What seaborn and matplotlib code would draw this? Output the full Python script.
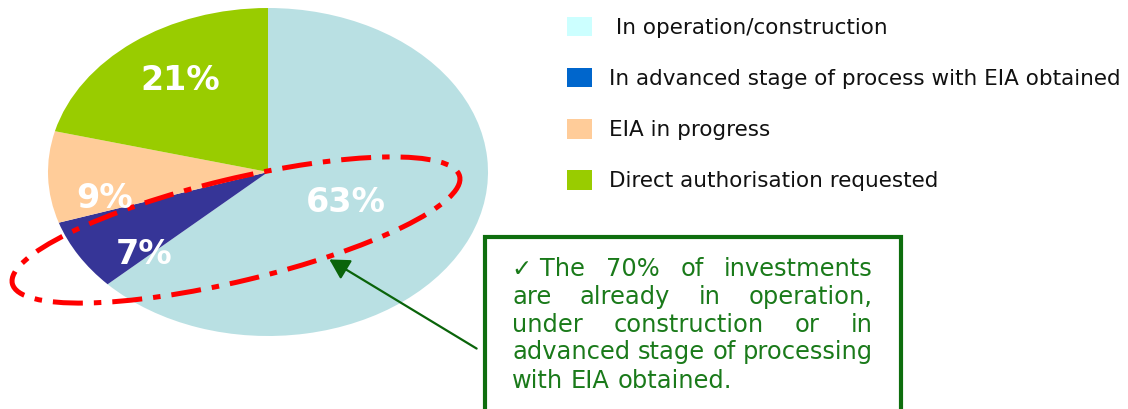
import matplotlib
matplotlib.use("Agg")
import matplotlib.pyplot as plt
import seaborn as sns
from matplotlib.patches import Ellipse, Rectangle, Patch, FancyArrowPatch

# ---------------- data ----------------
categories = [" In operation/construction",
              "In advanced stage of process with EIA obtained",
              "EIA in progress",
              "Direct authorisation requested"]
shares = [63, 7, 9, 21]
pct_labels = ["63%", "7%", "9%", "21%"]
pie_colors = ["#B9E0E3", "#363597", "#FFCC99", "#99CC00"]
legend_colors = ["#CCFFFF", "#0066CC", "#FFCC99", "#99CC00"]
note_lines = ["\u2713 The 70% of investments",
              "are already in operation,",
              "under construction or in",
              "advanced stage of processing",
              "with EIA obtained."]

# ---------------- style ----------------
sns.set_theme(style="white")
plt.rcParams['font.family'] = ['DejaVu Sans']

W, H = 1128, 409
fig = plt.figure(figsize=(W / 100, H / 100), dpi=100)

# pie axes (elliptical pie)
pie_left, pie_top, pie_w, pie_h = 48, 8, 440, 328
ax = fig.add_axes([pie_left / W, 1 - (pie_top + pie_h) / H, pie_w / W, pie_h / H])
wedges, _ = ax.pie(shares, colors=pie_colors, startangle=90, counterclock=False,
                   radius=1, wedgeprops=dict(linewidth=0))
ax.set_aspect('auto')
ax.set_xlim(-1, 1)
ax.set_ylim(-1, 1)
ax.axis('off')

# overlay axes in pixel coordinates
ov = fig.add_axes([0, 0, 1, 1], zorder=5)
ov.set_xlim(0, W)
ov.set_ylim(H, 0)
ov.axis('off')
ov.patch.set_alpha(0)

# percentage labels
label_pos = [(346, 203), (144, 255), (105, 199), (180, 81)]
for txt, (x, y) in zip(pct_labels, label_pos):
    ov.text(x, y, txt, color='white', fontsize=24, fontweight='bold',
            ha='center', va='center')

# red dash-dot ellipse
ell = Ellipse((236, 230), 460, 102, angle=-13.5, fill=False, edgecolor='#FF0000',
              linewidth=3.6, linestyle=(0, (6.0, 2.2, 1.5, 2.2)))
ov.add_patch(ell)

# annotation box
box = Rectangle((485, 237), 416, 180, facecolor='white', edgecolor='#0E6E0E',
                linewidth=3)
ov.add_patch(box)

# arrow
arr = FancyArrowPatch((479, 350), (327, 258), arrowstyle='-|>,head_length=8,head_width=4.5',
                      color='#0A640A', linewidth=1.6, mutation_scale=1.5)
ov.add_patch(arr)

# justified text inside box
fig.canvas.draw()
renderer = fig.canvas.get_renderer()
txt_left, txt_right = 512, 873
baselines = [276, 304, 332, 359, 388]
text_color = '#1A7A1A'
fs = 17.4
probe2 = ov.text(0, 0, "a a", fontsize=fs)
probe1 = ov.text(0, 0, "aa", fontsize=fs)
space_w = probe2.get_window_extent(renderer).width - probe1.get_window_extent(renderer).width
probe2.remove()
probe1.remove()
for li, (line, yb) in enumerate(zip(note_lines, baselines)):
    if line.startswith("\u2713"):
        words = [line[:5]] + line[6:].split(" ")
    else:
        words = line.split(" ")
    objs = [ov.text(0, yb, w, color=text_color, fontsize=fs, ha='left', va='baseline')
            for w in words]
    widths = [o.get_window_extent(renderer).width for o in objs]
    if li < len(note_lines) - 1 and len(words) > 1:
        gap = (txt_right - txt_left - sum(widths)) / (len(words) - 1)
    else:
        gap = space_w
    x = txt_left
    for o, w in zip(objs, widths):
        o.set_x(x)
        x += w + gap

# legend
handles = [Patch(facecolor=c, edgecolor='none') for c in legend_colors]
leg = fig.legend(handles, categories, loc='upper left',
                 bbox_to_anchor=(567 / W, 1 - 17 / H), frameon=False, fontsize=15.5,
                 handlelength=1.16, handleheight=1.0, handletextpad=0.8,
                 labelspacing=1.4, borderpad=0, borderaxespad=0)
for t in leg.get_texts():
    t.set_color('#111111')

fig.savefig("out.png", dpi=100)
